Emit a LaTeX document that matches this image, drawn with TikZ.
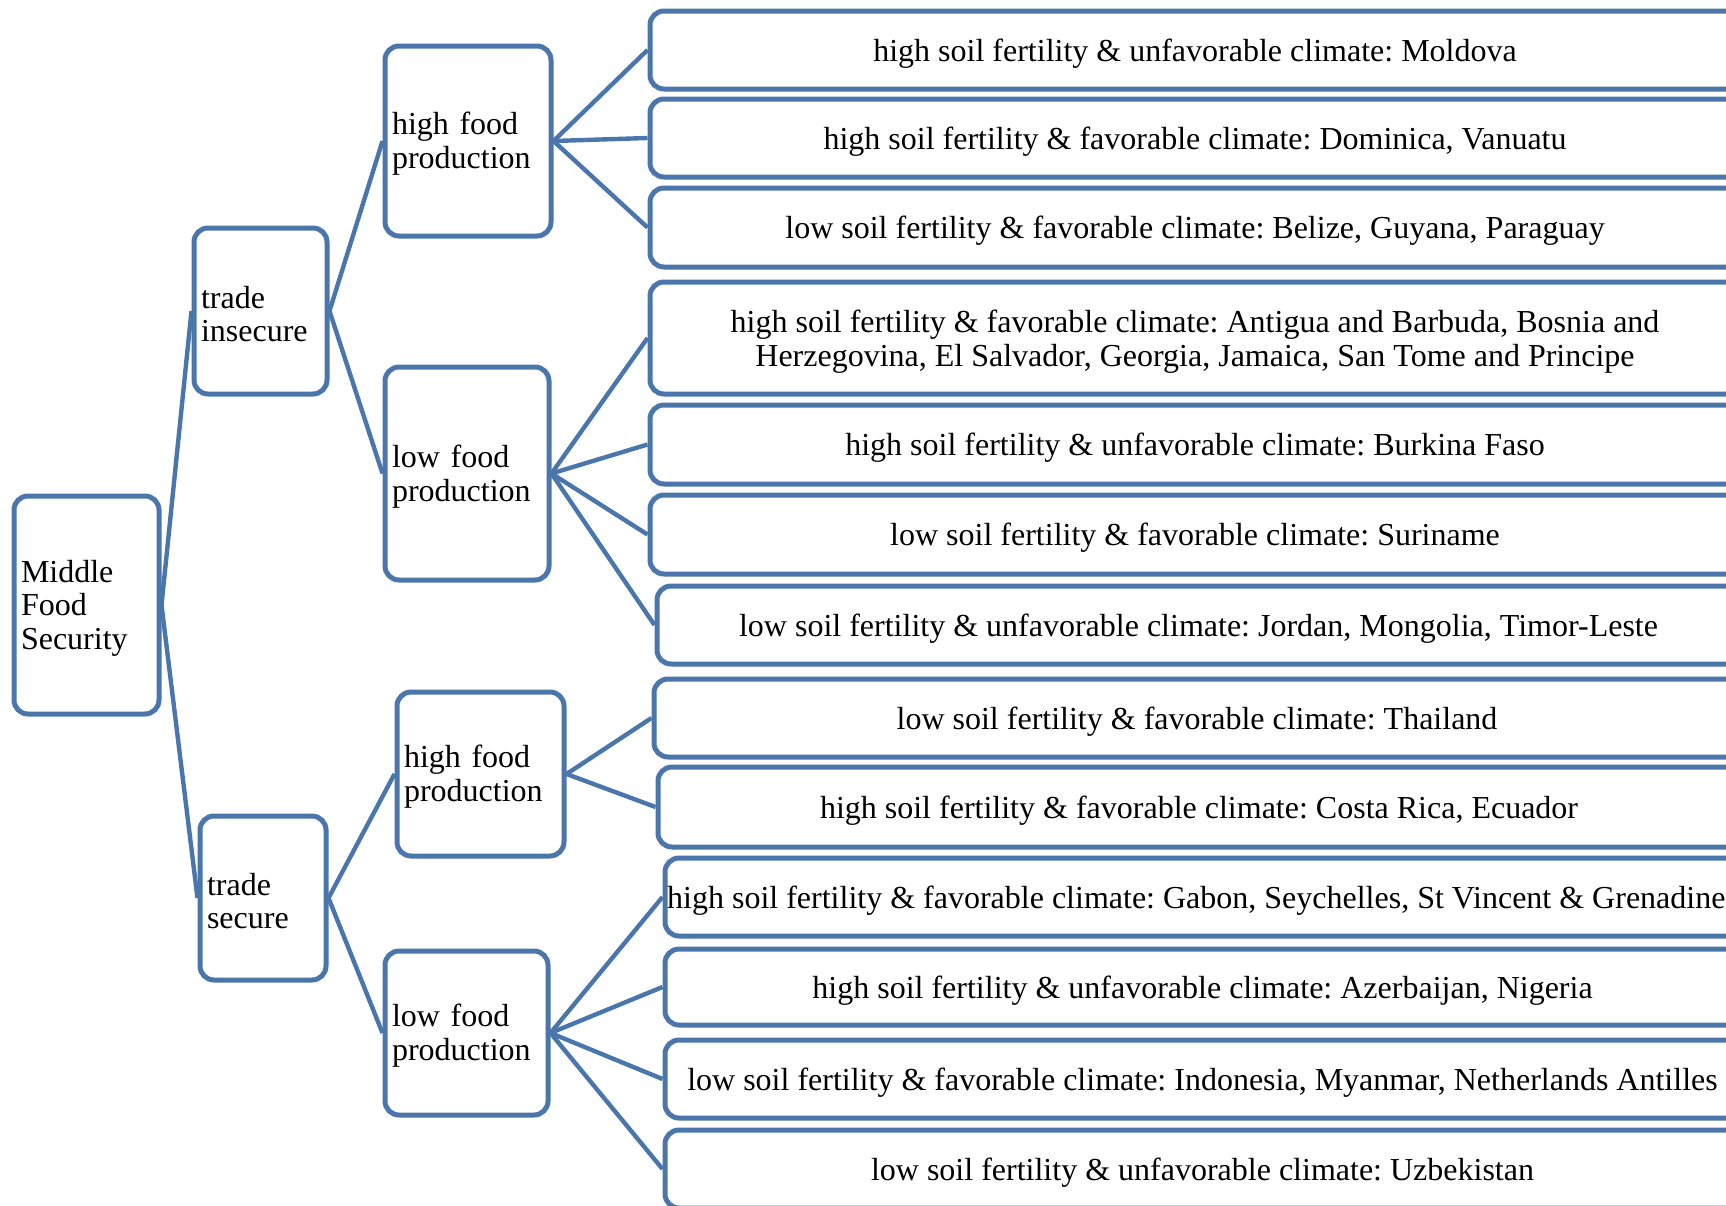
\documentclass[tikz,border=0pt]{standalone}
\usepackage{fontspec}
\setmainfont{Liberation Serif}
\definecolor{smartblue}{RGB}{74,118,172}
\frenchspacing
\begin{document}
\begin{tikzpicture}[x=0.5pt,y=-0.5pt,
  box/.style={draw=smartblue, line width=2.5pt, rounded corners=7pt, fill=white,
    font=\fontsize{16}{16.8}\selectfont},
  lvl/.style={box, align=left, inner xsep=3.5pt, inner ysep=0pt,
    execute at begin node={\rule{0pt}{14.1pt}}},
  leaf/.style={box, align=center, inner sep=0pt, text depth=0pt},
  link/.style={draw=smartblue, line width=2.2pt}]
\useasboundingbox (0,0) rectangle (1726,1206);
\clip (0,0) rectangle (1726,1206);

% category boxes
\node[lvl, minimum width=72.5pt, minimum height=109pt, text width=65.5pt] (mfs) at (86.5,605) {Middle\\Food\\Security};
\node[lvl, minimum width=66.5pt, minimum height=83pt, text width=59.5pt] (ti) at (260.5,311) {trade\\insecure};
\node[lvl, minimum width=63pt, minimum height=82pt, text width=56pt] (ts) at (263,898) {trade\\secure};
\node[lvl, minimum width=83pt, minimum height=95pt, text width=76pt] (hfa) at (468,141) {high food\\production};
\node[lvl, minimum width=82pt, minimum height=106.5pt, text width=75pt] (lfa) at (467,473.5) {low food\\production};
\node[lvl, minimum width=83.5pt, minimum height=82pt, text width=76.5pt] (hfb) at (480.5,774) {high food\\production};
\node[lvl, minimum width=81.5pt, minimum height=82pt, text width=74.5pt] (lfb) at (466.5,1033) {low food\\production};

% country groups
\node[leaf, minimum width=545pt, minimum height=39pt] (l1) at (1195,50) {high soil fertility \& unfavorable climate: Moldova};
\node[leaf, minimum width=545pt, minimum height=39pt] (l2) at (1195,138) {high soil fertility \& favorable climate: Dominica, Vanuatu};
\node[leaf, minimum width=545pt, minimum height=39.5pt] (l3) at (1195,227.5) {low soil fertility \& favorable climate: Belize, Guyana, Paraguay};
\node[leaf, minimum width=545pt, minimum height=56pt] (l4) at (1195,338) {high soil fertility \& favorable climate: Antigua and Barbuda, Bosnia and\\Herzegovina, El Salvador, Georgia, Jamaica, San Tome and Principe};
\node[leaf, minimum width=545pt, minimum height=39.5pt] (l5) at (1195,444.5) {high soil fertility \& unfavorable climate: Burkina Faso};
\node[leaf, minimum width=545pt, minimum height=39.5pt] (l6) at (1195,534.5) {low soil fertility \& favorable climate: Suriname};
\node[leaf, minimum width=541.5pt, minimum height=39pt] (l7) at (1198.5,625) {low soil fertility \& unfavorable climate: Jordan, Mongolia, Timor-Leste};
\node[leaf, minimum width=543pt, minimum height=39pt] (l8) at (1197,718) {low soil fertility \& favorable climate: Thailand};
\node[leaf, minimum width=541pt, minimum height=40pt] (l9) at (1199,807) {high soil fertility \& favorable climate: Costa Rica, Ecuador};
\node[leaf, minimum width=537.5pt, minimum height=39pt] (l10) at (1202.5,897) {high soil fertility \& favorable climate: Gabon, Seychelles, St Vincent \& Grenadines};
\node[leaf, minimum width=537.5pt, minimum height=38pt] (l11) at (1202.5,987) {high soil fertility \& unfavorable climate: Azerbaijan, Nigeria};
\node[leaf, minimum width=537.5pt, minimum height=39pt] (l12) at (1202.5,1079) {low soil fertility \& favorable climate: Indonesia, Myanmar, Netherlands Antilles};
\node[leaf, minimum width=537.5pt, minimum height=39pt] (l13) at (1202.5,1169) {low soil fertility \& unfavorable climate: Uzbekistan};

% connectors
\foreach \a/\b in {mfs/ti, mfs/ts, ti/hfa, ti/lfa, ts/hfb, ts/lfb,
  hfa/l1, hfa/l2, hfa/l3, lfa/l4, lfa/l5, lfa/l6, lfa/l7,
  hfb/l8, hfb/l9, lfb/l10, lfb/l11, lfb/l12, lfb/l13}
  \draw[link] (\a.east) -- (\b.west);
\end{tikzpicture}
\end{document}
